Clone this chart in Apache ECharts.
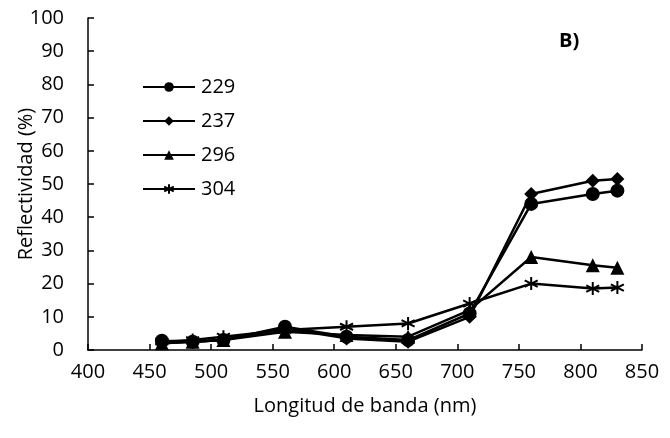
<!DOCTYPE html>
<html>
<head>
<meta charset="utf-8">
<script src="https://cdn.jsdelivr.net/npm/echarts@6/dist/echarts.min.js"></script>
<style>
html,body{margin:0;padding:0;background:#fff;}
#c{width:670px;height:438px;}
</style>
</head>
<body>
<div id="c"></div>
<script>
const wavelengths = [460, 485, 510, 560, 610, 660, 710, 760, 810, 830];
const s229 = [2.8, 2.5, 3.0, 7.0, 4.0, 3.0, 11.0, 44.0, 47.0, 48.0];
const s237 = [2.0, 2.5, 3.0, 6.5, 3.5, 2.5, 10.0, 47.0, 51.0, 51.5];
const s296 = [2.0, 2.5, 3.0, 5.5, 4.5, 4.0, 12.0, 28.0, 25.5, 24.8];
const s304 = [2.5, 3.0, 4.0, 6.0, 7.0, 8.0, 14.0, 20.0, 18.5, 18.8];
const seriesNames = ['229', '237', '296', '304'];
const panelLabel = 'B)';
const xTitle = 'Longitud de banda (nm)';
const yTitle = 'Reflectividad (%)';

const FONT = 'Open Sans';
const asterisk = 'path://M0,-10L0,10M-8.66,-5L8.66,5M-8.66,5L8.66,-5';

function mk(name, vals, symbol, size, extra) {
  return Object.assign({
    name: name,
    type: 'line',
    data: wavelengths.map((w, i) => [w, vals[i]]),
    symbol: symbol,
    symbolSize: size,
    showAllSymbol: true,
    lineStyle: {color: '#000', width: 2.5},
    itemStyle: {color: '#000', borderColor: '#000', borderWidth: 0},
    emphasis: {disabled: true},
    animation: false
  }, extra || {});
}

const chart = echarts.init(document.getElementById('c'), null, {renderer: 'canvas'});
chart.setOption({
  animation: false,
  backgroundColor: '#fff',
  textStyle: {fontFamily: FONT},
  grid: {left: 88, right: 28, top: 18, bottom: 88, containLabel: false, outerBoundsMode: 'none'},
  title: {
    text: panelLabel, left: 554, top: 26,
    textStyle: {fontFamily: FONT, fontSize: 20, fontWeight: 'bold', color: '#000'}
  },
  legend: {
    orient: 'vertical', left: 137, top: 72,
    itemWidth: 52, itemHeight: 12, itemGap: 14,
    textStyle: {fontFamily: FONT, fontSize: 20, color: '#000', padding: [0,0,0,1]},
    data: seriesNames
  },
  xAxis: {
    type: 'value', min: 400, max: 850, interval: 50,
    name: xTitle, nameLocation: 'middle', nameGap: 46, nameMoveOverlap: false,
    nameTextStyle: {fontFamily: FONT, fontSize: 20, color: '#000'},
    axisLine: {show: true, lineStyle: {color: '#000', width: 1.5}},
    axisTick: {show: true, inside: true, length: 6, lineStyle: {color: '#000', width: 1.5}},
    axisLabel: {fontFamily: FONT, fontSize: 20, color: '#000', margin: 12},
    splitLine: {show: false}
  },
  yAxis: {
    type: 'value', min: 0, max: 100, interval: 10,
    name: yTitle, nameLocation: 'middle', nameGap: 52, nameMoveOverlap: false,
    nameTextStyle: {fontFamily: FONT, fontSize: 20, color: '#000'},
    axisLine: {show: true, lineStyle: {color: '#000', width: 1.5}},
    axisTick: {show: true, inside: true, length: 6, lineStyle: {color: '#000', width: 1.5}},
    axisLabel: {fontFamily: FONT, fontSize: 20, color: '#000', margin: 24},
    splitLine: {show: false}
  },
  series: [
    mk(seriesNames[0], s229, 'circle', 14),
    mk(seriesNames[1], s237, 'diamond', 14),
    mk(seriesNames[2], s296, 'triangle', 14),
    mk(seriesNames[3], s304, asterisk, 13, {itemStyle: {color: 'none', borderColor: '#000', borderWidth: 2}})
  ]
});
</script>
</body>
</html>
